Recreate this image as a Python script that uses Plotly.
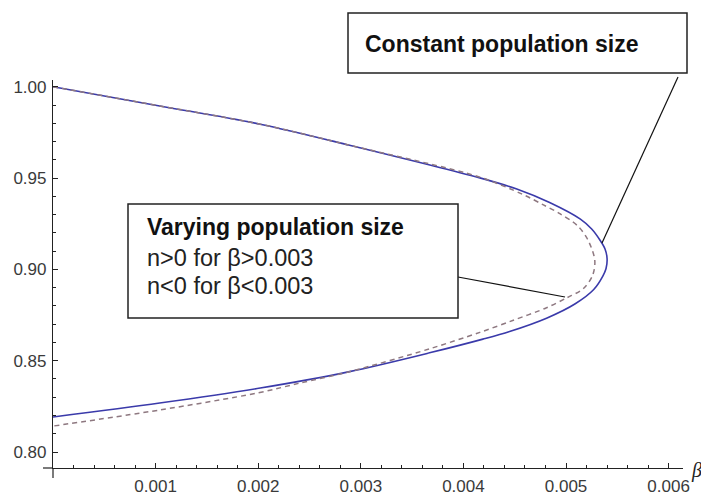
import numpy as np
import plotly.graph_objects as go

# ---- data ----
# constant population size (solid), ordered along the curve
const_beta = [0, 0.00104, 0.00202, 0.00289, 0.00416, 0.00452, 0.00484, 0.00514, 0.00525,
              0.00533, 0.00538, 0.00540, 0.00539, 0.00536, 0.00527, 0.00509, 0.00481,
              0.00445, 0.00419, 0.00367, 0.00289, 0.00202, 0.00104, 0]
const_y = [1.000, 0.9895, 0.9795, 0.9680, 0.9501, 0.9440, 0.9366, 0.9275, 0.9221,
           0.9161, 0.9112, 0.9060, 0.9005, 0.8965, 0.8890, 0.8812, 0.8733,
           0.8660, 0.8618, 0.8543, 0.8440, 0.8350, 0.8268, 0.8192]

# varying population size (dashed)
vary_beta = [0, 0.00104, 0.00202, 0.00289, 0.00416, 0.00458, 0.00478, 0.00494, 0.00511,
             0.00521, 0.00528, 0.00526, 0.00517, 0.00501, 0.00481, 0.00448, 0.00416,
             0.00367, 0.00289, 0.00241, 0.00199, 0.00104, 0]
vary_y = [1.000, 0.9895, 0.9795, 0.9680, 0.9505, 0.9410, 0.9353, 0.9305, 0.9240,
          0.9165, 0.9051, 0.8969, 0.8895, 0.8845, 0.8790, 0.8720, 0.8655,
          0.8565, 0.8440, 0.8378, 0.8323, 0.8230, 0.8142]

x_ticks = [0.001, 0.002, 0.003, 0.004, 0.005, 0.006]
x_labels = ["0.001", "0.002", "0.003", "0.004", "0.005", "0.006"]
y_ticks = [0.80, 0.85, 0.90, 0.95, 1.00]
y_labels = ["0.80", "0.85", "0.90", "0.95", "1.00"]

# ---- layout geometry (pixels in the 709x495 window; page body has an 8px margin) ----
OFF = 8
W, H = 709 - OFF, 495 - OFF
L, R, T, B = 53, 683, 80, 468


def px(xp):
    return (xp - L) / (R - L)


def py(yp):
    return (B - yp) / (B - T)


fig = go.Figure()
fig.add_trace(go.Scatter(x=const_beta, y=const_y, mode="lines",
                         line=dict(color="#3a3aaa", width=1.6, shape="spline", smoothing=0.9),
                         showlegend=False, hoverinfo="skip"))
fig.add_trace(go.Scatter(x=vary_beta, y=vary_y, mode="lines",
                         line=dict(color="#8e7880", width=1.5, dash="5px,4px",
                                   shape="spline", smoothing=0.9),
                         showlegend=False, hoverinfo="skip"))

axis_col = "#222222"
tick_font = dict(family="Liberation Sans, Arial, sans-serif", size=17, color="#3a3a3a")

fig.update_layout(
    width=W, height=H,
    margin=dict(l=L - OFF, r=709 - R, t=T - OFF, b=495 - B, pad=0, autoexpand=False),
    paper_bgcolor="white", plot_bgcolor="white",
    xaxis=dict(range=[0, 0.00614], tickmode="array", tickvals=x_ticks, ticktext=x_labels,
               ticks="inside", ticklen=5, tickwidth=1, tickcolor=axis_col, automargin=False,
               showline=True, linecolor=axis_col, linewidth=1.2, mirror=False,
               showgrid=False, zeroline=False, tickfont=tick_font, ticklabelstandoff=2,
               minor=dict(tickmode="array", tickvals=list(np.round(np.arange(0.0002, 0.0062, 0.0002), 5)),
                          ticks="inside", ticklen=2.5, tickwidth=1, tickcolor=axis_col, showgrid=False)),
    yaxis=dict(range=[0.79124, 1.0037], tickmode="array", tickvals=y_ticks, ticktext=y_labels,
               ticks="inside", ticklen=5, tickwidth=1, tickcolor=axis_col, automargin=False,
               showline=True, linecolor=axis_col, linewidth=1.2, mirror=False,
               showgrid=False, zeroline=False, tickfont=tick_font, ticklabelstandoff=2,
               minor=dict(tickmode="array", tickvals=list(np.round(np.arange(0.80, 1.001, 0.01), 3)),
                          ticks="inside", ticklen=2.5, tickwidth=1, tickcolor=axis_col, showgrid=False)),
)

shapes = []
# axis overhangs (Mathematica style crossing axes)
shapes.append(dict(type="line", xref="paper", yref="paper", x0=px(43), x1=0, y0=0, y1=0,
                   line=dict(color=axis_col, width=1.2)))
shapes.append(dict(type="line", xref="paper", yref="paper", x0=0, x1=0, y0=py(478), y1=0,
                   line=dict(color=axis_col, width=1.2)))
# connector lines
shapes.append(dict(type="line", xref="paper", yref="paper", x0=px(678), y0=py(77), x1=px(602), y1=py(243),
                   line=dict(color="#111111", width=1.2)))
shapes.append(dict(type="line", xref="paper", yref="paper", x0=px(458), y0=py(277), x1=px(565), y1=py(297),
                   line=dict(color="#111111", width=1.2)))
# boxes
shapes.append(dict(type="rect", xref="paper", yref="paper", x0=px(348), x1=px(687), y0=py(73), y1=py(13),
                   line=dict(color="#222222", width=1.5), fillcolor="white"))
shapes.append(dict(type="rect", xref="paper", yref="paper", x0=px(128), x1=px(458), y0=py(318), y1=py(204),
                   line=dict(color="#222222", width=1.5), fillcolor="white"))
fig.update_layout(shapes=shapes)

bold_font = dict(family="Liberation Sans, Arial, sans-serif", size=23, color="#111111")
reg_font = dict(family="Liberation Sans, Arial, sans-serif", size=23.5, color="#222222")
ann = []
ann.append(dict(xref="paper", yref="paper", x=px(363), y=py(44), text="<b>Constant population size</b>",
                showarrow=False, xanchor="left", yanchor="middle", font=bold_font))
ann.append(dict(xref="paper", yref="paper", x=px(145), y=py(227), text="<b>Varying population size</b>",
                showarrow=False, xanchor="left", yanchor="middle", font=bold_font))
ann.append(dict(xref="paper", yref="paper", x=px(145), y=py(258), text="n>0 for β>0.003",
                showarrow=False, xanchor="left", yanchor="middle", font=reg_font))
ann.append(dict(xref="paper", yref="paper", x=px(145), y=py(286), text="n<0 for β<0.003",
                showarrow=False, xanchor="left", yanchor="middle", font=reg_font))
ann.append(dict(xref="paper", yref="paper", x=px(689), y=py(470), text="<i>β</i>",
                showarrow=False, xanchor="left", yanchor="middle",
                font=dict(family="Liberation Serif, Times New Roman, serif", size=20, color="#222222")))
fig.update_layout(annotations=ann)

fig.write_html("out.html")
